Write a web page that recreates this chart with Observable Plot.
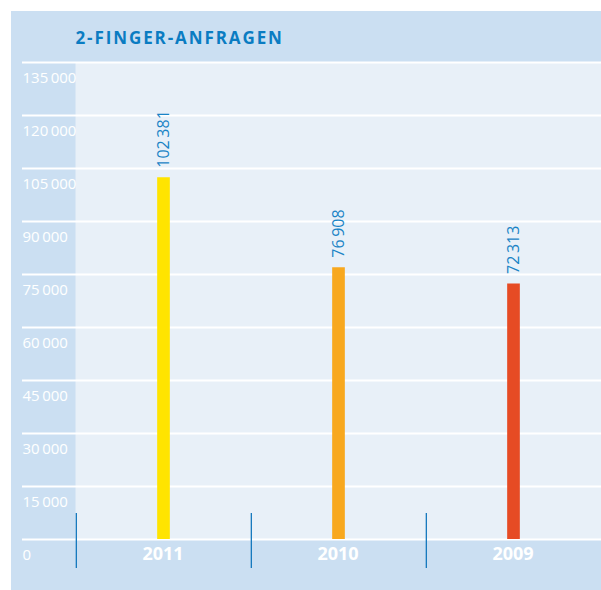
<!DOCTYPE html>
<html>
<head>
<meta charset="utf-8">
<script src="https://cdn.jsdelivr.net/npm/d3@7"></script>
<script src="https://cdn.jsdelivr.net/npm/@observablehq/plot@0.6"></script>
<style>
  html, body { margin: 0; padding: 0; background: #ffffff; }
  #panel { position: absolute; left: 11px; top: 11px; width: 590px; height: 579px; background: #cbdff2; }
  #panel svg { display: block; background: transparent; font-family: "Open Sans", sans-serif; }
</style>
</head>
<body>
<div id="panel"></div>
<script>
const title = "2-FINGER-ANFRAGEN";
const years = ["2011", "2010", "2009"];
const values = [102381, 76908, 72313];
const colors = ["#ffe400", "#f8a81e", "#e64b24"];
const yTicks = [0, 15000, 30000, 45000, 60000, 75000, 90000, 105000, 120000, 135000];

const data = years.map((y, i) => ({year: y, value: values[i], color: colors[i]}));
const fmt = v => d3.format(",")(v).replace(/,/g, "\u2009");

const W = 590, H = 579;
const mL = 64, mR = 0, mT = 51, mB = 51;
const bw = (W - mL - mR) / years.length;
const barW = 13;

const chart = Plot.plot({
  width: W,
  height: H,
  marginLeft: mL,
  marginRight: mR,
  marginTop: mT,
  marginBottom: mB,
  style: {background: "transparent", fontFamily: "Open Sans, sans-serif"},
  x: {domain: years, padding: 0, axis: null},
  y: {domain: [0, 135000], axis: null},
  marks: [
    Plot.frame({fill: "#e8f0f8", stroke: null}),
    Plot.ruleY(yTicks, {stroke: "#ffffff", strokeWidth: 2.2, insetLeft: -53}),
    Plot.text(yTicks, {y: d => d, text: d => fmt(d), frameAnchor: "left", dx: -53, dy: 15.5, textAnchor: "start", fill: "#ffffff", fontSize: 15}),
    Plot.barY(data, {x: "year", y: "value", fill: "color", insetLeft: (bw - barW) / 2, insetRight: (bw - barW) / 2}),
    Plot.text(data, {x: "year", y: "value", text: d => fmt(d.value), rotate: -90, textAnchor: "start", dy: -10, fill: "#1a84c6", fontSize: 16}),
    Plot.ruleX(years, {x: d => d, dx: -bw / 2, stroke: "#1478bd", strokeWidth: 1.3, insetTop: 451, insetBottom: -29}),
    Plot.text(years, {x: d => d, frameAnchor: "bottom", lineAnchor: "middle", dy: 15, dx: -1, text: d => d, fill: "#ffffff", fontWeight: "bold", fontSize: 18}),
    Plot.text([title], {frameAnchor: "top-left", text: d => d, textAnchor: "start", lineAnchor: "bottom", dy: -18.5, fill: "#0a7cc2", fontWeight: "bold", fontSize: 17})
  ]
});
d3.select(chart).selectAll("text").filter(function() { return this.textContent === title; })
  .attr("letter-spacing", "1.9px");
document.getElementById("panel").appendChild(chart);
</script>
</body>
</html>
